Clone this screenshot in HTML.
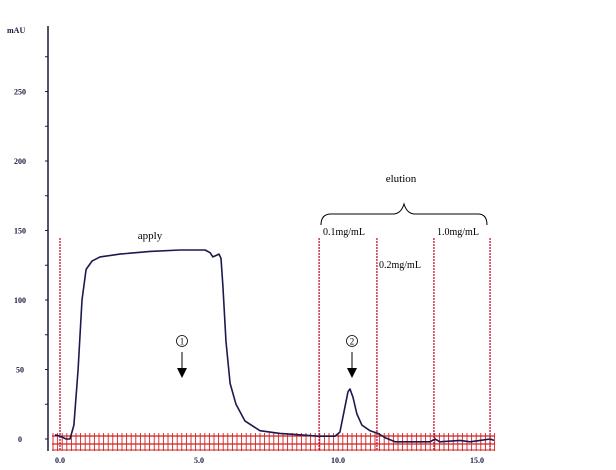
<!DOCTYPE html>
<html><head><meta charset="utf-8"><style>
html,body{margin:0;padding:0;background:#fff;}
svg{display:block;}
text{font-family:"Liberation Serif",serif;}
</style></head><body>
<svg id="chart" width="616" height="470" viewBox="0 0 616 470" xmlns="http://www.w3.org/2000/svg"></svg>
<script>
const timeValues=[-0.18,0,0.22,0.36,0.5,0.65,0.79,0.94,1.15,1.44,2.16,3.24,4.32,5.22,5.4,5.5,5.61,5.72,5.79,5.86,5.97,6.12,6.33,6.65,7.19,7.91,8.63,9.28,9.89,10.07,10.22,10.36,10.43,10.54,10.68,10.86,11.15,11.44,11.69,12.05,12.59,13.31,13.49,13.67,14.39,14.75,15.11,15.47,15.61];
const absorbance=[3,2,0,0,10,50,100,122,128,131,133,135,136,136,134,131,132,133,130,110,70,40,25,13,6,4,3,2,2,5,20,34,36,30,18,10,6,4,1,-2,-2,-2,0,-2,-1,-2,-1,0,-1];
const xTicks=[0,5,10,15];
const xTickLabels=["0.0","5.0","10.0","15.0"];
const yTicks=[0,50,100,150,200,250];
const yTickLabels=["0","50","100","150","200","250"];
const fractionLines=[0,9.32,11.4,13.45,15.47];

const NS="http://www.w3.org/2000/svg";
const svg=document.getElementById('chart');
const X=t=>60+t*27.8;
const Y=v=>439-v*1.39;
function mk(tag,attrs,parent){const e=document.createElementNS(NS,tag);for(const k in attrs)e.setAttribute(k,attrs[k]);(parent||svg).appendChild(e);return e;}

// fraction band
const band=mk('g',{});


mk('line',{x1:52,x2:495,y1:436,y2:436,stroke:'#d02020','stroke-width':1.2},band);
mk('line',{x1:52,x2:495,y1:444,y2:444,stroke:'#d02020','stroke-width':1.2},band);
mk('line',{x1:52,x2:495,y1:450,y2:450,stroke:'#d02020','stroke-width':1},band);
for(let x=53;x<=495;x+=4.6){mk('line',{x1:x,x2:x,y1:433,y2:451,stroke:'#d02020','stroke-width':0.9},band);}

// y axis
const yAxis=mk('g',{});


mk('line',{x1:48,x2:48,y1:26,y2:451,stroke:'#1a1a40','stroke-width':1.5},yAxis);
for(let v=0;v<=275;v+=25){mk('line',{x1:45,x2:48,y1:Y(v),y2:Y(v),stroke:'#1a1a40','stroke-width':1},yAxis);}
yTicks.forEach((v,i)=>{const t=mk('text',{x:20,y:Y(v)+3,'text-anchor':'middle','font-size':8,'font-weight':'bold',fill:'#1a1a40'},yAxis);t.textContent=yTickLabels[i];});
const unit=mk('text',{x:7,y:33,'font-size':8,'font-weight':'bold',fill:'#1a1a40'});


unit.textContent='mAU';

// x axis labels
const xAxis=mk('g',{});


xTicks.forEach((v,i)=>{const t=mk('text',{x:X(v),y:463,'text-anchor':'middle','font-size':8,'font-weight':'bold',fill:'#1a1a40'},xAxis);t.textContent=xTickLabels[i];});

// fraction red lines
fractionLines.forEach(t=>{const l=mk('line',{x1:X(t),x2:X(t),y1:238,y2:450,stroke:'#cc1030','stroke-width':1.3,'stroke-dasharray':'2,1'});

});

// curve
let d='';timeValues.forEach((t,i)=>{d+=(i?'L':'M')+X(t).toFixed(1)+','+Y(absorbance[i]).toFixed(1);});
const path=mk('path',{d:d,fill:'none',stroke:'#1a1a50','stroke-width':1.6,'stroke-linejoin':'round'});



function label(txt,x,y,name,size,anchor){const t=mk('text',{x:x,y:y,'font-size':size||10,fill:'#000','text-anchor':anchor||'start'});t.textContent=txt;

return t;}
label('apply',150,239,'apply-label',11,'middle');
label('elution',401,182,'elution-label',11,'middle');
label('0.1mg/mL',323,235,'label-0.1mg',10);
label('0.2mg/mL',379,268,'label-0.2mg',10);
label('1.0mg/mL',437,235,'label-1.0mg',10);
const brace=mk('path',{d:'M321,225 Q321,214 331,214 L393,214 Q401,214 404,204 Q407,214 415,214 L478,214 Q487,214 487,225',fill:'none',stroke:'#000','stroke-width':1});



function marker(x,num,name){const g=mk('g',{});


mk('circle',{cx:x,cy:341,r:5.5,fill:'none',stroke:'#000','stroke-width':0.8},g);
const t=mk('text',{x:x,y:344.5,'font-size':9,'text-anchor':'middle'},g);t.textContent=num;
mk('line',{x1:x,x2:x,y1:352,y2:368,stroke:'#000','stroke-width':1},g);
mk('polygon',{points:`${x-5},368 ${x+5},368 ${x},378`,fill:'#000'},g);}
marker(182,'1','marker-1');
marker(352,'2','marker-2');
</script>
</body></html>
